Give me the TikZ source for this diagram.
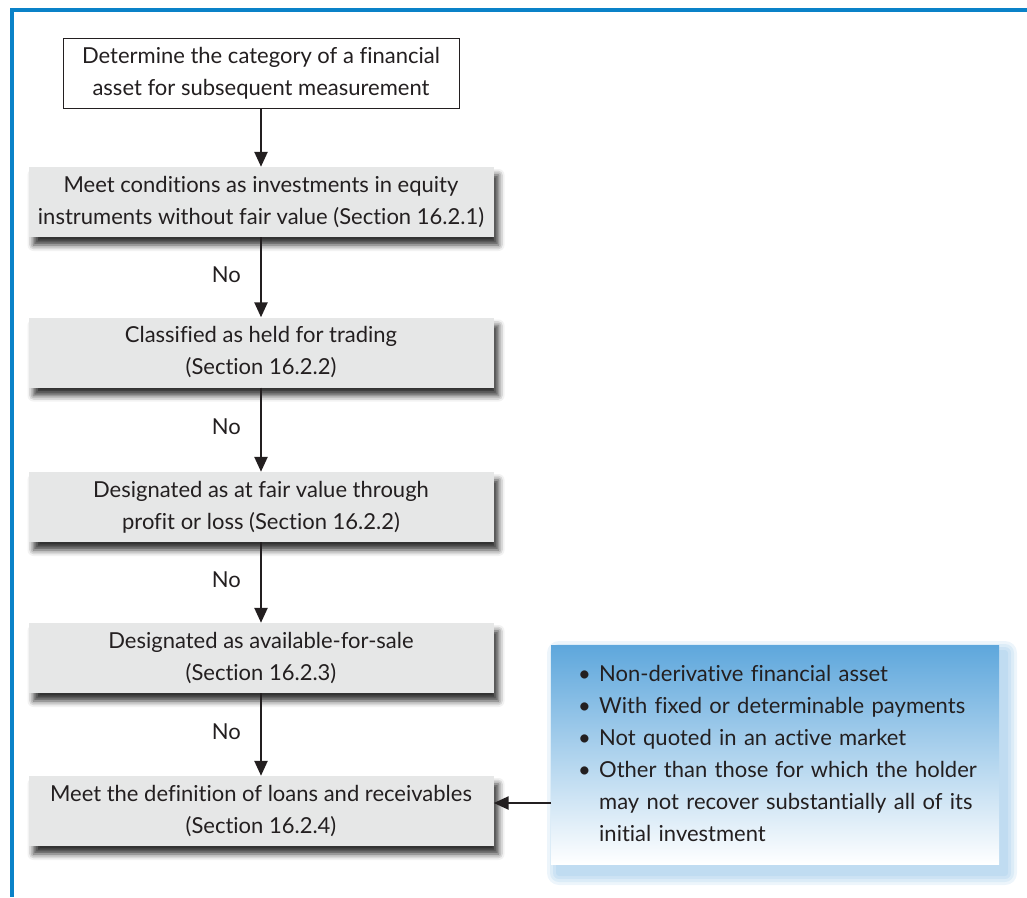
\documentclass[tikz,border=0pt]{standalone}
\usepackage{fontspec}
\setmainfont[Ligatures=NoCommon]{Lato}
\usetikzlibrary{arrows.meta,shadows.blur}

\definecolor{frameblue}{HTML}{0A82C8}
\definecolor{boxgray}{HTML}{E6E7E7}
\definecolor{inkdark}{HTML}{231F20}
\definecolor{panelblue}{HTML}{5EA7DC}
\definecolor{panelshadow}{HTML}{4A9AD6}

\begin{document}
\begin{tikzpicture}[x=1pt,y=-1pt,
  font=\fontsize{22}{32}\selectfont,
  every node/.style={text=inkdark},
  startbox/.style={draw=inkdark, line width=0.8pt, fill=white,
    minimum width=396pt, minimum height=70pt, align=center, inner sep=0pt},
  stepbox/.style={fill=boxgray, minimum width=465pt, minimum height=70pt,
    align=center, inner sep=0pt,
    blur shadow={shadow xshift=5pt, shadow yshift=-8pt,
      shadow blur radius=6pt, shadow opacity=80}},
  flow/.style={draw=inkdark, line width=2.4pt,
    -{Triangle[width=13pt,length=15pt]}},
  nolabel/.style={left=19pt, yshift=3pt, inner sep=0pt},
]
\useasboundingbox (0,0) rectangle (1027,897);

% blue frame along the top and left edges
\draw[frameblue, line width=4pt] (1027,10) -- (12,10) -- (12,897);

% flow of decisions
\node[startbox] (start) at (261,73)
  {Determine the category of a financial\\asset for subsequent measurement};
\node[stepbox] (equity) at (261,202)
  {Meet conditions as investments in equity\\instruments without fair value (Section 16.2.1)};
\node[stepbox] (trading) at (261,352.5)
  {Classified as held for trading\\(Section 16.2.2)};
\node[stepbox] (fvpl) at (261,507)
  {Designated as at fair value through\\profit or loss (Section 16.2.2)};
\node[stepbox] (afs) at (261,658)
  {Designated as available-for-sale\\(Section 16.2.3)};
\node[stepbox] (loans) at (261,811)
  {Meet the definition of loans and receivables\\(Section 16.2.4)};

% soft blue glow behind the criteria panel, offset down and right
\foreach \g in {12,9,6,3}
  \fill[panelshadow, opacity=0.10, rounded corners=\g pt]
    (551+8-\g,645+8-\g) rectangle (999+6+\g,864+9+\g);

% criteria panel
\node[anchor=north west, minimum width=448pt, minimum height=219pt,
  top color=panelblue, bottom color=white, inner xsep=27pt, inner ysep=0pt,
  text width=394pt, align=left] (panel) at (551,645)
  {\begin{tabular}{@{}p{21pt}@{}l@{}}
   \textbullet & Non-derivative financial asset\\
   \textbullet & With fixed or determinable payments\\
   \textbullet & Not quoted in an active market\\
   \textbullet & Other than those for which the holder\\
               & may not recover substantially all of its\\
               & initial investment
   \end{tabular}};

% connectors
\draw[flow] (start.south) -- (equity.north);
\draw[flow] (equity.south) -- node[nolabel] (no1) {No} (trading.north);
\draw[flow] (trading.south) -- node[nolabel] (no2) {No} (fvpl.north);
\draw[flow] (fvpl.south) -- node[nolabel] (no3) {No} (afs.north);
\draw[flow] (afs.south) -- node[nolabel] (no4) {No} (loans.north);

\coordinate (entry) at ([yshift=8pt]loans.east);
\draw[flow] (panel.west |- entry) -- (entry);
\end{tikzpicture}
\end{document}
